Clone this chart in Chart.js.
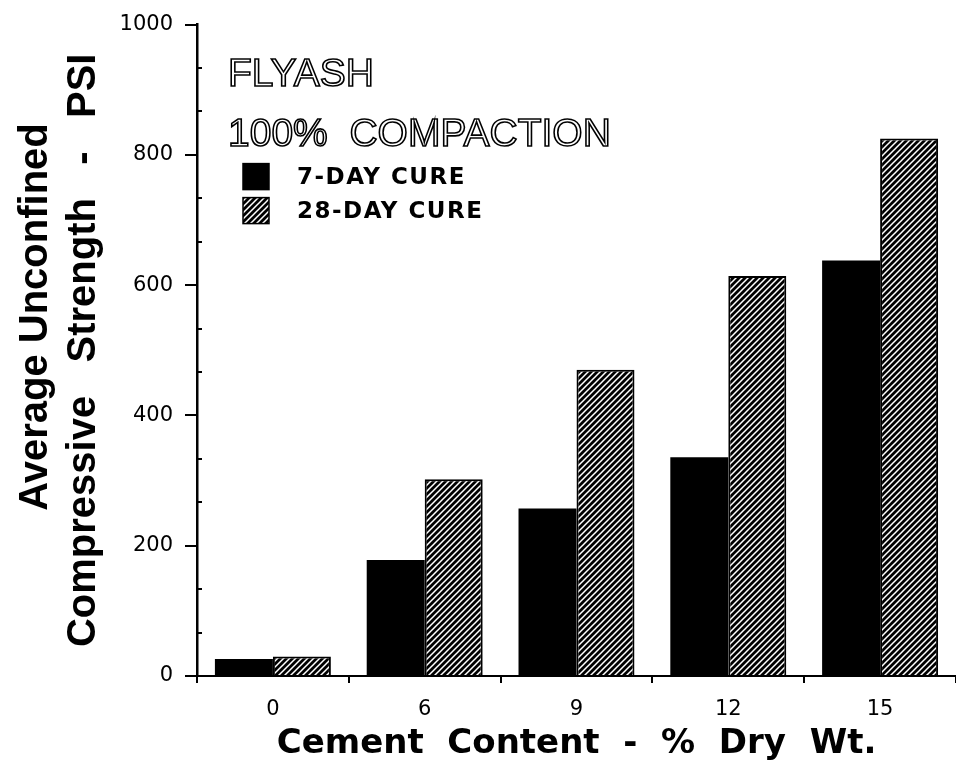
<!DOCTYPE html>
<html>
<head>
<meta charset="utf-8">
<script src="https://cdn.jsdelivr.net/npm/chart.js"></script>
<style>
  html, body { margin: 0; padding: 0; background: #fff; }
  canvas { display: block; }
</style>
</head>
<body>
<canvas id="strengthChart" width="956" height="776"></canvas>
<script>
// cement content, % dry wt.
var cementContent = ['0', '6', '9', '12', '15'];
// average unconfined compressive strength, psi
var cure7Day = [26, 178, 257, 336, 638];
var cure28Day = [30, 302, 470, 614, 825];
var seriesLabels = ['7-DAY CURE', '28-DAY CURE'];
var yTickStep = 200;
var yMax = 1000;
var noteLines = ['FLYASH', '100%  COMPACTION'];

// black with thin white "/" stripes
function makeHatch() {
    var c = document.createElement('canvas');
    c.width = 6; c.height = 6;
    var g = c.getContext('2d');
    g.fillStyle = '#000';
    g.fillRect(0, 0, 6, 6);
    g.strokeStyle = '#fff';
    g.lineWidth = 1.5;
    g.beginPath();
    g.moveTo(-1, 7); g.lineTo(7, -1);
    g.moveTo(-1, 1); g.lineTo(1, -1);
    g.moveTo(5, 7); g.lineTo(7, 5);
    g.stroke();
    return g.createPattern(c, 'repeat');
}

var ctx = document.getElementById('strengthChart').getContext('2d');
var hatch = makeHatch();

// minor y ticks, outlined notes and the legend inside the plot
var extrasPlugin = {
    id: 'extras',
    afterDraw: function (chart) {
        var c = chart.ctx, area = chart.chartArea, y = chart.scales.y;
        c.save();
        c.strokeStyle = '#000';
        c.lineWidth = 2;
        for (var v = 0; v < yMax; v += yTickStep) {
            [1, 2].forEach(function (k) {
                var py = Math.round(y.getPixelForValue(v + k * yTickStep / 3));
                c.beginPath();
                c.moveTo(area.left, py);
                c.lineTo(area.left + 5, py);
                c.stroke();
            });
        }

        c.font = '39px "Liberation Sans"';
        c.lineWidth = 1.6;
        c.textBaseline = 'alphabetic';
        noteLines.forEach(function (t, i) {
            c.strokeText(t, area.left + 31, area.top + 61 + i * 60);
        });

        c.font = 'bold 23px "DejaVu Sans"';
        c.letterSpacing = '1.5px';
        c.textBaseline = 'middle';
        chart.data.datasets.forEach(function (ds, i) {
            var bx = area.left + 46, by = area.top + 139 + i * 34;
            c.fillStyle = ds.backgroundColor;
            c.fillRect(bx, by, 26, 26);
            c.lineWidth = 1.5;
            c.strokeRect(bx, by, 26, 26);
            c.fillStyle = '#000';
            c.fillText(ds.label, area.left + 100, by + 14);
        });
        c.restore();
    }
};

var chart = new Chart(ctx, {
    type: 'bar',
    data: {
        labels: cementContent,
        datasets: [
            {
                label: seriesLabels[0],
                data: cure7Day,
                backgroundColor: '#000',
                borderColor: '#000',
                borderWidth: 0
            },
            {
                label: seriesLabels[1],
                data: cure28Day,
                backgroundColor: hatch,
                borderColor: '#000',
                borderWidth: 2
            }
        ]
    },
    options: {
        responsive: false,
        animation: false,
        layout: { padding: { top: 19, left: 0, right: 0, bottom: 0 } },
        datasets: { bar: { categoryPercentage: 0.764, barPercentage: 1.0 } },
        plugins: {
            legend: { display: false },
            tooltip: { enabled: false }
        },
        scales: {
            x: {
                grid: { offset: true, drawOnChartArea: false, drawTicks: true, tickLength: 7, color: '#000', lineWidth: 2 },
                border: { display: true, color: '#000', width: 2 },
                ticks: { color: '#000', font: { family: "'DejaVu Sans'", size: 21 }, padding: 14 },
                title: {
                    display: true,
                    text: 'Cement  Content  -  %  Dry  Wt.',
                    color: '#000',
                    font: { family: "'DejaVu Sans'", size: 34, weight: 'bold' },
                    padding: { top: 0, bottom: 11 }
                },
                afterFit: function (s) { s.height = 100; }
            },
            y: {
                min: 0,
                max: yMax,
                grid: { drawOnChartArea: false, drawTicks: true, tickLength: 12, color: '#000', lineWidth: 2 },
                border: { display: true, color: '#000', width: 2.5 },
                ticks: {
                    stepSize: yTickStep,
                    color: '#000',
                    font: { family: "'DejaVu Sans'", size: 21 },
                    padding: 12,
                    callback: function (value) { return String(value); }
                },
                title: {
                    display: true,
                    text: ['      Average Unconfined', 'Compressive   Strength   -   PSI'],
                    color: '#000',
                    font: { family: "'Liberation Sans'", size: 40, weight: 'bold', lineHeight: 1.2 },
                    padding: { top: 12, bottom: 0 }
                },
                afterFit: function (s) { s.width = 197; }
            }
        }
    },
    plugins: [extrasPlugin]
});
</script>
</body>
</html>
